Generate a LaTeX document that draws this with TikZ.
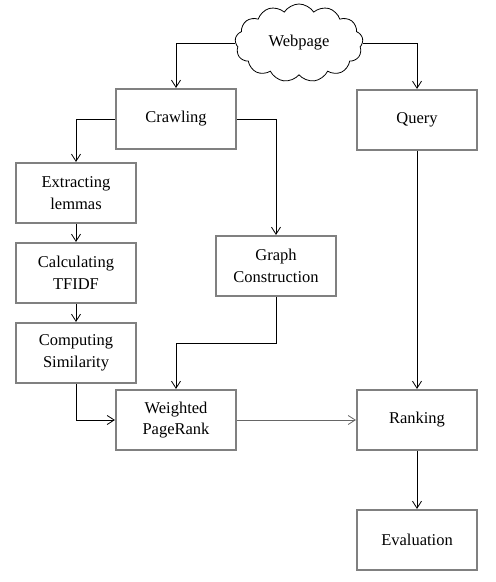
\documentclass[tikz,border=0pt]{standalone}
\usepackage{fontspec}
\setmainfont{Liberation Serif}
\newfontfamily\boxfont{Liberation Serif}
\usetikzlibrary{positioning, arrows.meta, calc, shapes.symbols}

\begin{document}
\begin{tikzpicture}[
    x=1bp, y=-1bp,
    >={Straight Barb[length=7bp, width=9bp]},
    font=\boxfont\fontsize{16.5bp}{21.5bp}\selectfont,
    stage box/.style={draw=black!50, line width=2.2bp, fill=white,
                      align=center, minimum width=120bp, minimum height=60bp,
                      inner sep=2bp},
    source cloud/.style={cloud, draw=black, line width=0.8bp, cloud puffs=13,
                         cloud puff arc=115, aspect=1.7,
                         minimum width=128bp, minimum height=78bp, inner sep=0pt},
    flow/.style={->, black, line width=0.8bp},
]

\useasboundingbox (0,0) rectangle (496,582);

% =====================================================================
%  TOP — source and the two branches
% =====================================================================
\node[source cloud] (web) at (299,43) {Webpage};

\node[stage box] (crawl) at (176,119) {Crawling};
\node[stage box] (query) at (417,120) {Query};

% --- text branch (left column) ---
\node[stage box] (lemma) at (76,193) {Extracting\\lemmas};
\node[stage box] (tfidf) at (76,273) {Calculating\\TFIDF};
\node[stage box] (simil) at (76,353) {Computing\\Similarity};

% --- link branch ---
\node[stage box] (graph) at (276,266) {Graph\\Construction};

% =====================================================================
%  BOTTOM — scoring
% =====================================================================
\node[stage box] (wpr)  at (176,420) {Weighted\\PageRank};
\node[stage box] (rank) at (417,420) {Ranking};
\node[stage box] (eval) at (417,540) {Evaluation};

% --- Arrows ---
\draw[flow] (web.west) -| (crawl.north);
\draw[flow] (web.east) -| (query.north);
\draw[flow] (crawl.west) -| (lemma.north);
\draw[flow] (crawl.east) -| (graph.north);
\draw[flow] (lemma) -- (tfidf);
\draw[flow] (tfidf) -- (simil);
\draw[flow] (graph.south)
    -- ($(graph.south)!0.5!(graph.south |- wpr.north)$) -| (wpr.north);
\draw[flow] (simil.south) |- (wpr.west);
\draw[flow, black!60] (wpr) -- (rank);
\draw[flow] (query) -- (rank);
\draw[flow] (rank) -- (eval);

\end{tikzpicture}
\end{document}
